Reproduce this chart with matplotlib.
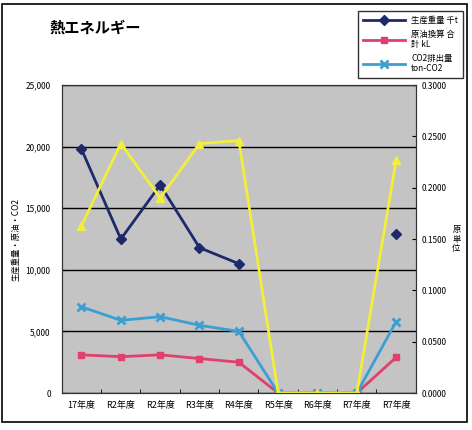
"""熱エネルギー chart: production weight, crude oil equivalent, CO2 and intensity."""
import numpy as np
import matplotlib
matplotlib.use("Agg")
import matplotlib.pyplot as plt
from matplotlib.ticker import FuncFormatter, MultipleLocator
from matplotlib.patches import Rectangle

plt.rcParams['font.family'] = ['Noto Sans CJK JP', 'DejaVu Sans']

# ================== data ================== #
categories = ["17年度", "R2年度", "R2年度", "R3年度", "R4年度",
              "R5年度", "R6年度", "R7年度", "R7年度"]
production = [19800, 12500, 16900, 11800, 10500, np.nan, np.nan, np.nan, 12900]
crude_oil = [3100, 2950, 3100, 2800, 2500, 0, 0, 0, 2900]
co2 = [7000, 5900, 6200, 5500, 5000, 0, 0, 0, 5800]
intensity = [0.163, 0.243, 0.190, 0.243, 0.246, 0, 0, 0, 0.227]

labels = ["生産重量 千t", "原油換算 合\n計 kL", "CO2排出量\nton-CO2"]

# ================== figure ================== #
fig = plt.figure(figsize=(4.72, 4.30), dpi=100)
ax = fig.add_axes([0.131, 0.086, 0.750, 0.716])
ax.set_facecolor("#c4c4c4")

x = np.arange(len(categories))
ax.plot(x, production, color="#1c2a6b", lw=2, marker="D", ms=5, label=labels[0])
ax.plot(x, crude_oil, color="#e0406e", lw=2, marker="s", ms=5, label=labels[1])
ax.plot(x, co2, color="#3b9fd4", lw=2, marker="x", ms=6, mew=2, label=labels[2])

ax2 = ax.twinx()
ax2.plot(x, intensity, color="#f2ee3a", lw=2, marker="^", ms=6)
ax2.set_ylim(0, 0.3)
ax2.yaxis.set_major_locator(MultipleLocator(0.05))
ax2.yaxis.set_major_formatter(FuncFormatter(lambda v, p: f"{v:.4f}"))
ax2.tick_params(axis="y", labelsize=6, length=3, direction="in", pad=4)
# stacked vertical label of the right axis
ax2.text(1.115, 0.5, "原\n単\n位", transform=ax2.transAxes, fontsize=6,
         ha="center", va="center", linespacing=1.1)

ax.set_ylim(0, 25000)
ax.set_xlim(-0.5, len(categories) - 0.5)
ax.yaxis.set_major_locator(MultipleLocator(5000))
ax.yaxis.set_major_formatter(FuncFormatter(lambda v, p: f"{v:,.0f}"))
ax.grid(axis="y", color="black", lw=1)
ax.set_axisbelow(True)
ax.tick_params(axis="y", labelsize=6, length=3, direction="in", pad=8)
ax.set_xticks(x)
ax.set_xticklabels(categories, fontsize=6.5)
ax.tick_params(axis="x", length=0, pad=6)
ax.set_xticks(np.arange(-0.5, len(categories)), minor=True)
ax.tick_params(axis="x", which="minor", length=3, direction="in")
ax.set_ylabel("生産重量・原油・CO2", fontsize=6, labelpad=4)

for a in (ax, ax2):
    for s in a.spines.values():
        s.set_color("#333333")

fig.text(0.105, 0.925, "熱エネルギー", fontsize=11, fontweight="bold")

leg = ax.legend(loc="upper right", bbox_to_anchor=(0.99, 0.985),
                bbox_transform=fig.transFigure, fontsize=6, frameon=True,
                fancybox=False, edgecolor="black", handlelength=5,
                borderpad=0.6, labelspacing=0.6)
leg.get_frame().set_linewidth(1)

# outer frame of the scanned chart
fig.patches.append(Rectangle((0.005, 0.018), 0.985, 0.972, fill=False,
                             lw=1.2, ec="black", transform=fig.transFigure))

fig.savefig("out.png", dpi=100)
